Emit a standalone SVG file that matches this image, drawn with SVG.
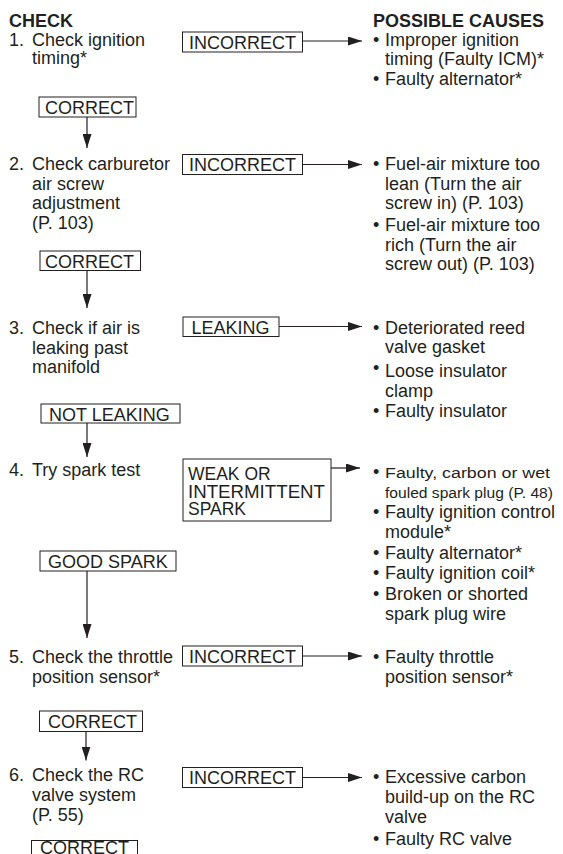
<svg xmlns="http://www.w3.org/2000/svg" width="563" height="854" viewBox="0 0 563 854">
<style>
text{font-family:"Liberation Sans",Arial,Helvetica,sans-serif;font-size:18px;fill:#231f20}
.b{font-weight:bold}
.sm{font-size:15.5px}
.wk{font-size:17.5px}
.box{fill:none;stroke:#231f20;stroke-width:1}
.ln{fill:none;stroke:#231f20;stroke-width:1.2}
</style>
<defs>
<marker id="ah" markerUnits="userSpaceOnUse" markerWidth="14" markerHeight="9" refX="14" refY="4.5" orient="auto">
<path d="M0,0 L14,4.5 L0,9 z" fill="#231f20"/>
</marker>
</defs>
<rect width="563" height="854" fill="#fff"/>

<g id="headers">
<text class="b" x="9" y="26.5">CHECK</text>
<text class="b" x="373" y="26.5">POSSIBLE CAUSES</text>
</g>

<g id="check1">
<text x="9" y="45.5">1.</text>
<text x="32" y="45.5">Check ignition</text>
<text x="32" y="64">timing*</text>
</g>
<g id="check2">
<text x="9" y="170">2.</text>
<text x="32" y="170">Check carburetor</text>
<text x="32" y="189.5">air screw</text>
<text x="32" y="209">adjustment</text>
<text x="32" y="228.5">(P. 103)</text>
</g>
<g id="check3">
<text x="9" y="334">3.</text>
<text x="32" y="334">Check if air is</text>
<text x="32" y="353.5">leaking past</text>
<text x="32" y="373">manifold</text>
</g>
<g id="check4">
<text x="9" y="475.5">4.</text>
<text x="32" y="475.5">Try spark test</text>
</g>
<g id="check5">
<text x="9" y="663">5.</text>
<text x="32" y="663">Check the throttle</text>
<text x="32" y="683">position sensor*</text>
</g>
<g id="check6">
<text x="9" y="781">6.</text>
<text x="32" y="781">Check the RC</text>
<text x="32" y="801">valve system</text>
<text x="32" y="821">(P. 55)</text>
</g>

<g id="incorrect1"><rect class="box" x="182.5" y="32" width="120" height="20"/><text x="189" y="48.5">INCORRECT</text></g>
<g id="correct1"><rect class="box" x="39" y="97" width="97" height="20"/><text x="45" y="114">CORRECT</text></g>
<g id="incorrect2"><rect class="box" x="182.5" y="154.5" width="120" height="20"/><text x="189" y="171">INCORRECT</text></g>
<g id="correct2"><rect class="box" x="40" y="251" width="100.5" height="19.5"/><text x="45" y="267.5">CORRECT</text></g>
<g id="leaking"><rect class="box" x="183" y="317" width="96" height="19.5"/><text x="191.5" y="333.5">LEAKING</text></g>
<g id="notleaking"><rect class="box" x="41" y="404" width="139" height="19"/><text x="49" y="420.5">NOT LEAKING</text></g>
<g id="weakspark"><rect class="box" x="183" y="459" width="148" height="62"/>
<text class="wk" x="188" y="480">WEAK OR</text><text class="wk" x="188" y="497.5" textLength="137" lengthAdjust="spacingAndGlyphs">INTERMITTENT</text><text class="wk" x="188" y="515">SPARK</text></g>
<g id="goodspark"><rect class="box" x="40" y="551" width="136" height="20"/><text x="48" y="567.5">GOOD SPARK</text></g>
<g id="incorrect5"><rect class="box" x="182.5" y="646" width="120" height="20"/><text x="189" y="662.5">INCORRECT</text></g>
<g id="correct5"><rect class="box" x="39.5" y="711" width="103" height="20.5"/><text x="48" y="728">CORRECT</text></g>
<g id="incorrect6"><rect class="box" x="182.5" y="767.5" width="120" height="20"/><text x="189" y="784">INCORRECT</text></g>
<g id="correct6"><rect class="box" x="31.5" y="840.5" width="106" height="30"/><text x="40" y="854">CORRECT</text></g>

<g id="causes1">
<text x="373" y="45.5">•</text><text x="385" y="45.5">Improper ignition</text>
<text x="385" y="65">timing (Faulty ICM)*</text>
<text x="373" y="85">•</text><text x="385" y="85">Faulty alternator*</text>
</g>
<g id="causes2">
<text x="373" y="170">•</text><text x="385" y="170">Fuel-air mixture too</text>
<text x="385" y="189.5">lean (Turn the air</text>
<text x="385" y="209">screw in) (P. 103)</text>
<text x="373" y="231">•</text><text x="385" y="231">Fuel-air mixture too</text>
<text x="385" y="250.5">rich (Turn the air</text>
<text x="385" y="270">screw out) (P. 103)</text>
</g>
<g id="causes3">
<text x="373" y="333.5">•</text><text x="385" y="333.5">Deteriorated reed</text>
<text x="385" y="353">valve gasket</text>
<text x="373" y="374">•</text><text x="385" y="377">Loose insulator</text>
<text x="385" y="396.5">clamp</text>
<text x="373" y="417">•</text><text x="385" y="417">Faulty insulator</text>
</g>
<g id="causes4">
<text x="373" y="478">•</text><text class="sm" x="385" y="478" textLength="165" lengthAdjust="spacingAndGlyphs">Faulty, carbon or wet</text>
<text class="sm" x="385" y="497.5" textLength="168" lengthAdjust="spacingAndGlyphs">fouled spark plug (P. 48)</text>
<text x="373" y="518">•</text><text x="385" y="518">Faulty ignition control</text>
<text x="385" y="537.5">module*</text>
<text x="373" y="558.5">•</text><text x="385" y="558.5">Faulty alternator*</text>
<text x="373" y="579">•</text><text x="385" y="579">Faulty ignition coil*</text>
<text x="373" y="600">•</text><text x="385" y="600">Broken or shorted</text>
<text x="385" y="619.5">spark plug wire</text>
</g>
<g id="causes5">
<text x="373" y="663">•</text><text x="385" y="663">Faulty throttle</text>
<text x="385" y="683">position sensor*</text>
</g>
<g id="causes6">
<text x="373" y="783">•</text><text x="385" y="783">Excessive carbon</text>
<text x="385" y="803">build-up on the RC</text>
<text x="385" y="823">valve</text>
<text x="373" y="845">•</text><text x="385" y="845">Faulty RC valve</text>
</g>

<g id="connectors">
<path class="ln" d="M302.5,41 H362" marker-end="url(#ah)"/>
<path class="ln" d="M87,117 V148" marker-end="url(#ah)"/>
<path class="ln" d="M302.5,164.5 H362" marker-end="url(#ah)"/>
<path class="ln" d="M87,270.5 V308" marker-end="url(#ah)"/>
<path class="ln" d="M279,326.5 H362" marker-end="url(#ah)"/>
<path class="ln" d="M87,423 V457" marker-end="url(#ah)"/>
<path class="ln" d="M331,468 H360" marker-end="url(#ah)"/>
<path class="ln" d="M87,571 V638" marker-end="url(#ah)"/>
<path class="ln" d="M302.5,656 H362" marker-end="url(#ah)"/>
<path class="ln" d="M86,731.5 V760.5" marker-end="url(#ah)"/>
<path class="ln" d="M302.5,777.5 H362" marker-end="url(#ah)"/>
</g>
</svg>
